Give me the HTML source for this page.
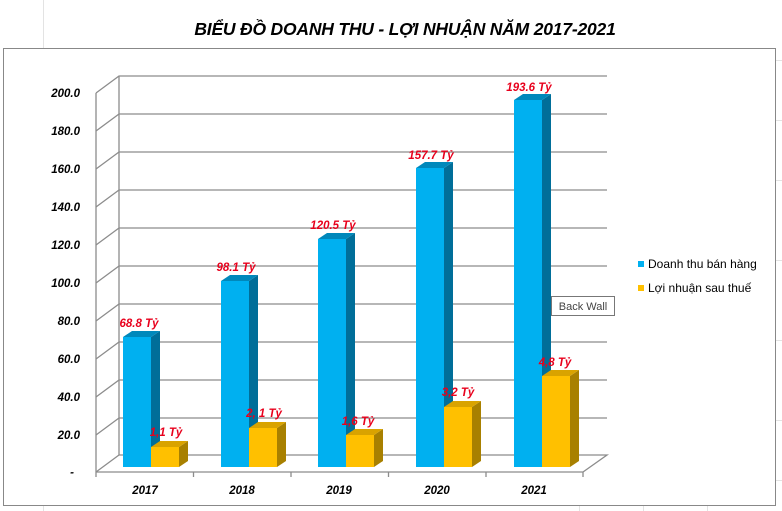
<!DOCTYPE html>
<html><head><meta charset="utf-8"><style>
html,body{margin:0;padding:0;background:#fff;}
svg{display:block;font-family:"Liberation Sans",sans-serif;}
</style></head><body>
<svg width="782" height="511" viewBox="0 0 782 511" xmlns="http://www.w3.org/2000/svg">
<g stroke="#e3e3e3" stroke-width="1">
<line x1="43.5" y1="0" x2="43.5" y2="48"/>
<line x1="43.5" y1="506" x2="43.5" y2="511"/>
<line x1="579.5" y1="506" x2="579.5" y2="511"/>
<line x1="643.5" y1="506" x2="643.5" y2="511"/>
<line x1="707.5" y1="506" x2="707.5" y2="511"/>
<line x1="776" y1="60.5" x2="782" y2="60.5"/>
<line x1="776" y1="120.5" x2="782" y2="120.5"/>
<line x1="776" y1="180.5" x2="782" y2="180.5"/>
<line x1="776" y1="260.5" x2="782" y2="260.5"/>
<line x1="776" y1="340.5" x2="782" y2="340.5"/>
<line x1="776" y1="420.5" x2="782" y2="420.5"/>
<line x1="776" y1="480.5" x2="782" y2="480.5"/>
</g>
<text x="405" y="35" text-anchor="middle" font-size="17.5" font-weight="bold" font-style="italic" fill="#000" letter-spacing="-0.2">BIỂU ĐỒ DOANH THU - LỢI NHUẬN NĂM 2017-2021</text>
<rect x="3.5" y="48.5" width="772" height="457" fill="#fff" stroke="#888" stroke-width="1"/>
<g stroke="#8c8c8c" stroke-width="1.3" fill="none">
<polyline points="96,93 119,76 607,76"/>
<polyline points="96,131 119,114 607,114"/>
<polyline points="96,169 119,152 607,152"/>
<polyline points="96,207 119,190 607,190"/>
<polyline points="96,245 119,228 607,228"/>
<polyline points="96,283 119,266 607,266"/>
<polyline points="96,321 119,304 607,304"/>
<polyline points="96,359 119,342 607,342"/>
<polyline points="96,397 119,380 607,380"/>
<polyline points="96,435 119,418 607,418"/>
<polyline points="96,472 119,455 607,455 583,472 96,472"/>
<line x1="96" y1="93" x2="96" y2="472"/>
<line x1="119" y1="76" x2="119" y2="455"/>
<line x1="96" y1="472" x2="96" y2="477"/>
<line x1="193.5" y1="472" x2="193.5" y2="477"/>
<line x1="291" y1="472" x2="291" y2="477"/>
<line x1="388.5" y1="472" x2="388.5" y2="477"/>
<line x1="486" y1="472" x2="486" y2="477"/>
<line x1="583" y1="472" x2="583" y2="477"/>
</g>
<g font-size="11.5" font-weight="bold" font-style="italic" text-anchor="end" fill="#000">
<text x="80" y="97">200.0</text><text x="80" y="135">180.0</text><text x="80" y="173">160.0</text>
<text x="80" y="211">140.0</text><text x="80" y="249">120.0</text><text x="80" y="287">100.0</text>
<text x="80" y="325">80.0</text><text x="80" y="363">60.0</text><text x="80" y="401">40.0</text>
<text x="80" y="439">20.0</text><text x="74" y="476">-</text>
</g>
<g font-size="11.5" font-weight="bold" font-style="italic" text-anchor="middle" fill="#000">
<text x="145" y="494">2017</text><text x="242" y="494">2018</text><text x="339" y="494">2019</text>
<text x="437" y="494">2020</text><text x="534" y="494">2021</text>
</g>
<g>
<polygon points="151,337 160,331 160,461 151,467" fill="#006E99"/><polygon points="123,337 132,331 160,331 151,337" fill="#0088BB"/><rect x="123" y="337" width="28" height="130" fill="#00B0F0"/>
<polygon points="249,281 258,275 258,461 249,467" fill="#006E99"/><polygon points="221,281 230,275 258,275 249,281" fill="#0088BB"/><rect x="221" y="281" width="28" height="186" fill="#00B0F0"/>
<polygon points="346,239 355,233 355,461 346,467" fill="#006E99"/><polygon points="318,239 327,233 355,233 346,239" fill="#0088BB"/><rect x="318" y="239" width="28" height="228" fill="#00B0F0"/>
<polygon points="444,168 453,162 453,461 444,467" fill="#006E99"/><polygon points="416,168 425,162 453,162 444,168" fill="#0088BB"/><rect x="416" y="168" width="28" height="299" fill="#00B0F0"/>
<polygon points="542,100 551,94 551,461 542,467" fill="#006E99"/><polygon points="514,100 523,94 551,94 542,100" fill="#0088BB"/><rect x="514" y="100" width="28" height="367" fill="#00B0F0"/>
</g>
<g>
<polygon points="179,447 188,441 188,461 179,467" fill="#A88000"/><polygon points="151,447 160,441 188,441 179,447" fill="#D9A300"/><rect x="151" y="447" width="28" height="20" fill="#FFC000"/>
<polygon points="277,428 286,422 286,461 277,467" fill="#A88000"/><polygon points="249,428 258,422 286,422 277,428" fill="#D9A300"/><rect x="249" y="428" width="28" height="39" fill="#FFC000"/>
<polygon points="374,435 383,429 383,461 374,467" fill="#A88000"/><polygon points="346,435 355,429 383,429 374,435" fill="#D9A300"/><rect x="346" y="435" width="28" height="32" fill="#FFC000"/>
<polygon points="472,407 481,401 481,461 472,467" fill="#A88000"/><polygon points="444,407 453,401 481,401 472,407" fill="#D9A300"/><rect x="444" y="407" width="28" height="60" fill="#FFC000"/>
<polygon points="570,376 579,370 579,461 570,467" fill="#A88000"/><polygon points="542,376 551,370 579,370 570,376" fill="#D9A300"/><rect x="542" y="376" width="28" height="91" fill="#FFC000"/>
</g>
<g font-size="11.5" font-weight="bold" font-style="italic" text-anchor="middle" fill="#E8001C">
<text x="139" y="327">68.8 Tỷ</text>
<text x="236" y="271">98.1 Tỷ</text>
<text x="333" y="229">120.5 Tỷ</text>
<text x="431" y="159">157.7 Tỷ</text>
<text x="529" y="91">193.6 Tỷ</text>
<text x="166" y="436">1,1 Tỷ</text>
<text x="264" y="417">2, 1 Tỷ</text>
<text x="358" y="425">1,6 Tỷ</text>
<text x="458" y="396">3,2 Tỷ</text>
<text x="555" y="366">4,8 Tỷ</text>
</g>
<rect x="638" y="261" width="6" height="6" fill="#00B0F0"/>
<rect x="638" y="285" width="6" height="6" fill="#FFC000"/>
<g font-size="12" fill="#000">
<text x="648" y="268">Doanh thu bán hàng</text>
<text x="648" y="292">Lợi nhuận sau thuế</text>
</g>
<rect x="551.5" y="296.5" width="63" height="19" fill="#fff" stroke="#777"/>
<text x="583" y="310" text-anchor="middle" font-size="11" fill="#444">Back Wall</text>
</svg>
</body></html>
